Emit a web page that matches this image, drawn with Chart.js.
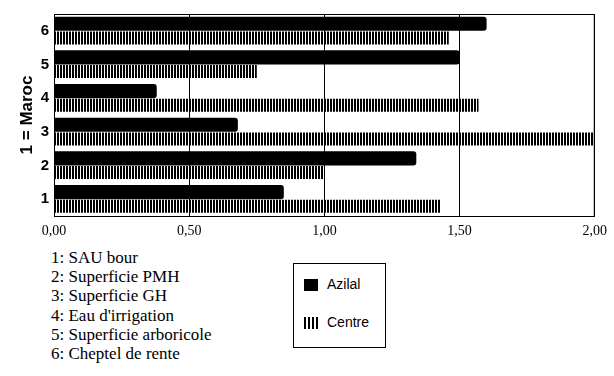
<!DOCTYPE html>
<html>
<head>
<meta charset="utf-8">
<script src="https://cdn.jsdelivr.net/npm/chart.js@4/dist/chart.umd.min.js"></script>
<style>
  html, body { margin: 0; padding: 0; background: #fff; }
  #wrap { position: relative; width: 614px; height: 376px; overflow: hidden; }
  #chartBox { position: absolute; left: 0; top: 0; width: 614px; height: 240px; }
  #notes {
    position: absolute; left: 51px; top: 248px; margin: 0; padding: 0; list-style: none;
    font-family: "Liberation Serif", "DejaVu Serif", serif; font-size: 17px; line-height: 19.2px; color: #000;
  }
  #legend {
    position: absolute; left: 293px; top: 263px; width: 91px; height: 83px;
    border: 1px solid #000; font-family: "Liberation Sans", Arial, sans-serif; font-size: 14px; color: #000;
  }
  .item { position: absolute; left: 10px; height: 14px; line-height: 14px; }
  .sw { display: inline-block; width: 14px; height: 12px; vertical-align: middle; margin-right: 9px; }
</style>
</head>
<body>
<div id="wrap">
  <div id="chartBox"><canvas id="ratioChart"></canvas></div>
  <ul id="notes"></ul>
  <div id="legend">
    <div class="item" style="top:13px"><span class="sw" style="background:#000"></span>Azilal</div>
    <div class="item" style="top:51px"><span class="sw" style="background:repeating-linear-gradient(90deg,#000 0 2px,#fff 2px 4px)"></span>Centre</div>
  </div>
</div>
<script>
// Catégories (1 = Maroc) et valeurs
const categories = ['1', '2', '3', '4', '5', '6'];
const azilal = [0.85, 1.34, 0.68, 0.38, 1.50, 1.60];
const centre = [1.43, 1.00, 2.00, 1.57, 0.75, 1.46];
const xTicks = [0, 0.5, 1, 1.5, 2];
const notes = ['1: SAU bour', '2: Superficie PMH', '3: Superficie GH', "4: Eau d'irrigation",
               '5: Superficie arboricole', '6: Cheptel de rente'];

document.getElementById('notes').innerHTML = notes.map(n => '<li>' + n + '</li>').join('');

// Motif à rayures verticales pour la série "Centre"
const pc = document.createElement('canvas');
pc.width = 3; pc.height = 1;
const pctx = pc.getContext('2d');
pctx.fillStyle = '#fff'; pctx.fillRect(0, 0, 3, 1);
pctx.fillStyle = '#000'; pctx.fillRect(0, 0, 2, 1);

const ctx = document.getElementById('ratioChart').getContext('2d');
const stripes = ctx.createPattern(pc, 'repeat');

// Cadre autour de la zone de tracé
const frame = {
  id: 'frame',
  afterDraw(chart) {
    const a = chart.chartArea, c = chart.ctx;
    c.save();
    c.strokeStyle = '#000'; c.lineWidth = 1;
    c.strokeRect(a.left + 0.5, a.top + 0.5, a.right - a.left - 1, a.bottom - a.top);
    c.restore();
  }
};

new Chart(ctx, {
  type: 'bar',
  data: {
    labels: categories,
    datasets: [{
      label: 'Azilal',
      data: azilal,
      backgroundColor: '#000',
      borderRadius: { topRight: 3, bottomRight: 3 },
      borderSkipped: 'start',
      barPercentage: 1.0,
      categoryPercentage: 0.84
    }, {
      label: 'Centre',
      data: centre,
      backgroundColor: stripes,
      barPercentage: 0.92,
      categoryPercentage: 0.84
    }]
  },
  options: {
    indexAxis: 'y',
    responsive: true,
    maintainAspectRatio: false,
    animation: false,
    layout: { padding: { top: 14, right: 19, left: 17 } },
    plugins: { legend: { display: false }, tooltip: { enabled: false } },
    scales: {
      x: {
        min: 0, max: 2,
        afterBuildTicks: s => { s.ticks = xTicks.map(v => ({ value: v })); },
        afterFit: s => { s.height = 24; },
        grid: { color: '#000', lineWidth: 1, drawTicks: false },
        border: { color: '#000' },
        ticks: {
          padding: 7, color: '#000',
          font: { family: 'Liberation Serif', size: 14 },
          callback: v => Number(v).toFixed(2).replace('.', ',')
        }
      },
      y: {
        reverse: true,
        afterFit: s => { s.width = 37; },
        grid: { display: false, drawTicks: false },
        border: { color: '#000' },
        ticks: { padding: 5, color: '#000', font: { family: 'Liberation Sans', size: 15, weight: 'bold' } },
        title: {
          display: true, text: '1 = Maroc', color: '#000',
          font: { family: 'Liberation Sans', size: 17, weight: 'bold' },
          padding: { top: 0, bottom: 0 }
        }
      }
    }
  },
  plugins: [frame]
});
</script>
</body>
</html>
